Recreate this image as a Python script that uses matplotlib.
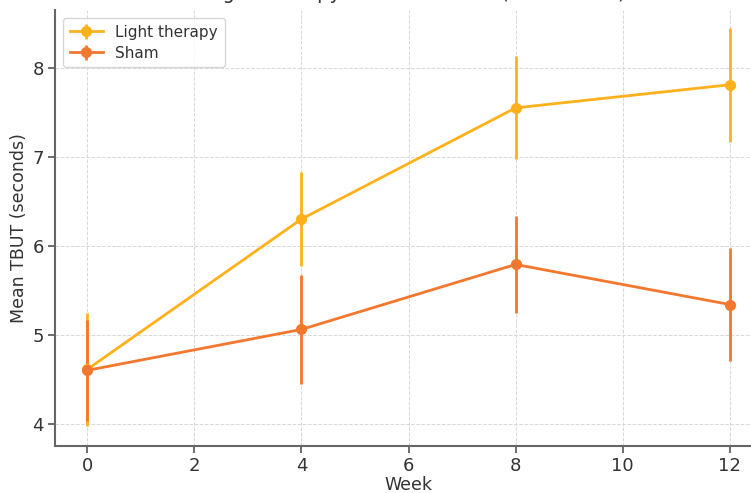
import matplotlib
matplotlib.use('Agg')
import matplotlib.pyplot as plt

# --- data ---
weeks = [0, 4, 8, 12]
light_mean = [4.61, 6.30, 7.55, 7.81]
light_sd = [0.64, 0.53, 0.58, 0.64]
sham_mean = [4.60, 5.06, 5.79, 5.34]
sham_sd = [0.57, 0.61, 0.55, 0.64]

LIGHT = '#FFB11B'
SHAM = '#F4772E'
TEXT = '#333333'

plt.rcParams['font.family'] = 'DejaVu Sans'

fig = plt.figure(figsize=(7.51, 4.93), dpi=100)
ax = fig.add_axes([55 / 751, 47 / 493, 707 / 751, 436 / 493])

ax.errorbar(weeks, light_mean, yerr=light_sd, color=LIGHT, marker='o', markersize=7,
            linewidth=2, elinewidth=2, capsize=0, label='Light therapy')
ax.errorbar(weeks, sham_mean, yerr=sham_sd, color=SHAM, marker='o', markersize=7,
            linewidth=2, elinewidth=2, capsize=0, label='Sham')

ax.set_xlim(-0.6, 12.6)
ax.set_ylim(3.75, 8.65)
ax.set_xticks(range(0, 13, 2))
ax.set_yticks([4, 5, 6, 7, 8])

ax.grid(True, linestyle='--', linewidth=0.7, color='#d8d8d8')
ax.set_axisbelow(True)
for s in ['top', 'right']:
    ax.spines[s].set_visible(False)
for s in ['left', 'bottom']:
    ax.spines[s].set_color('#666666')
    ax.spines[s].set_linewidth(1.5)
ax.tick_params(colors='#555555', labelcolor=TEXT, labelsize=13, length=5, width=1.2, pad=3)

ax.set_xlabel('Week', fontsize=12.5, color=TEXT, labelpad=1)
ax.set_ylabel('Mean TBUT (seconds)', fontsize=12.5, color=TEXT, labelpad=3)

leg = ax.legend(loc='upper left', fontsize=11, frameon=True, borderpad=0.45,
                handlelength=2.2, labelspacing=0.4)
leg.get_frame().set_edgecolor('#cccccc')
for t in leg.get_texts():
    t.set_color(TEXT)

# title mostly cropped off above the figure, as in the reference (only descenders show)
fig.text(416 / 751, 1 + 1 / 493, 'Light Therapy vs Sham: TBUT (Mean ± SD)',
         ha='center', va='baseline', fontsize=14, color=TEXT)

fig.savefig('out.png', dpi=100)
